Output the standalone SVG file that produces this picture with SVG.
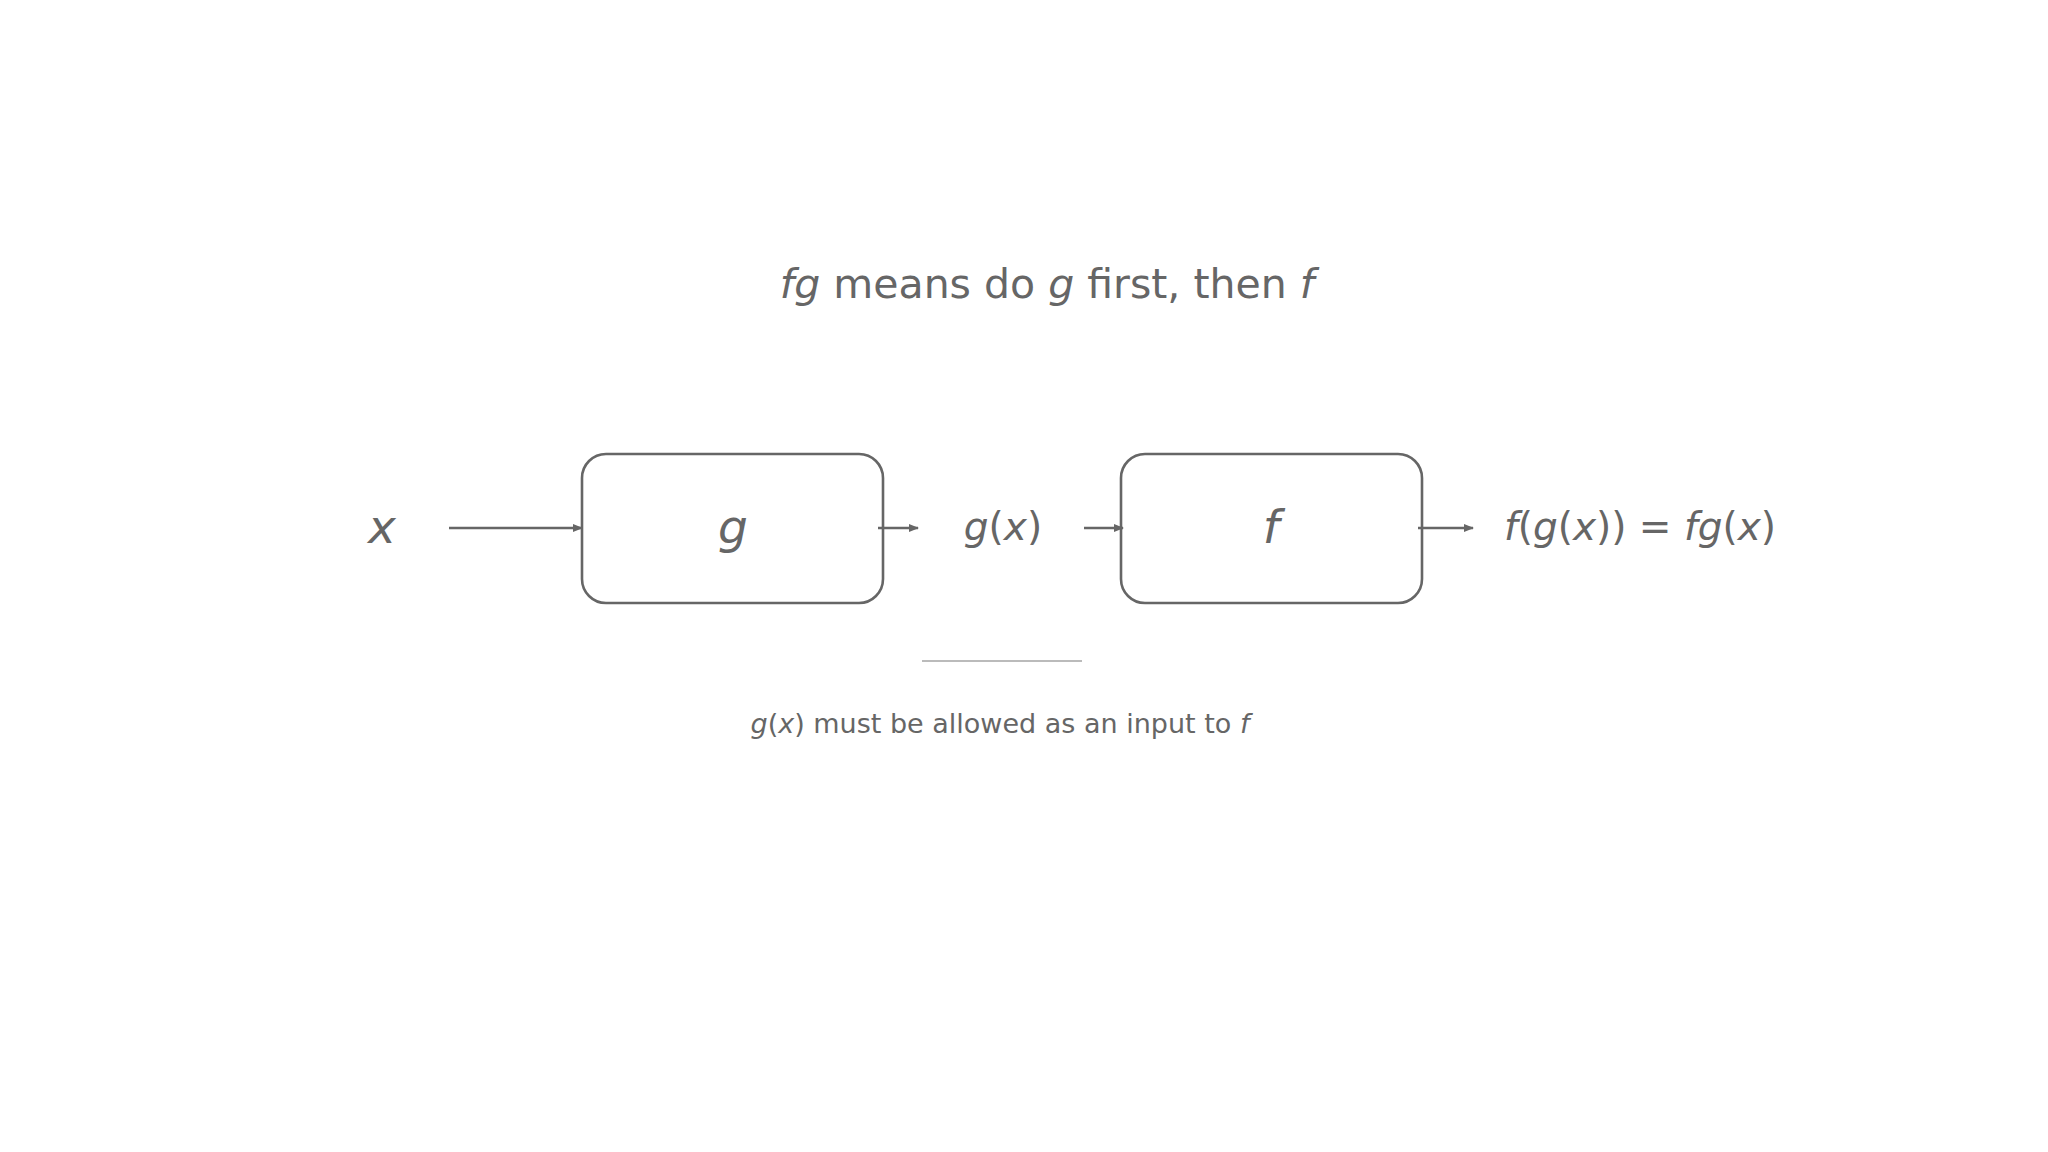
<svg xmlns="http://www.w3.org/2000/svg" width="2048" height="1152" viewBox="0 0 2048 1152">
<style>
text{font-family:"DejaVu Sans",sans-serif;fill:#666}
.i{font-style:italic}
.box{fill:#fff;stroke:#666;stroke-width:2.6}
.c{stroke:#666;stroke-width:2.6;fill:none;marker-end:url(#a)}
</style>
<defs><marker id="a" markerWidth="10" markerHeight="8" refX="9" refY="4" orient="auto" markerUnits="userSpaceOnUse"><path d="M0,0L10,4L0,8z" fill="#666"/></marker></defs>
<rect width="2048" height="1152" fill="#fff"/>
<text x="1047" y="298" font-size="41" text-anchor="middle"><tspan class="i">fg</tspan> means do <tspan class="i">g</tspan> first, then <tspan class="i">f</tspan></text>
<g id="x"><text x="382" y="543" font-size="47" class="i" text-anchor="middle">x</text></g>
<g id="g"><rect class="box" x="582" y="454" width="301" height="149" rx="24"/><text x="733" y="543" font-size="47" class="i" text-anchor="middle">g</text></g>
<g id="gx"><text x="1003" y="540" font-size="39" text-anchor="middle"><tspan class="i">g</tspan>(<tspan class="i">x</tspan>)</text></g>
<g id="f"><rect class="box" x="1121" y="454" width="301" height="149" rx="24"/><text x="1271" y="543" font-size="47" class="i" text-anchor="middle">f</text></g>
<g id="out"><text x="1504" y="540" font-size="39"><tspan class="i">f</tspan>(<tspan class="i">g</tspan>(<tspan class="i">x</tspan>)) = <tspan class="i">fg</tspan>(<tspan class="i">x</tspan>)</text></g>
<g id="connectors">
<line class="c" x1="449" y1="528" x2="582" y2="528"/>
<line class="c" x1="878" y1="528" x2="918" y2="528"/>
<line class="c" x1="1084" y1="528" x2="1123" y2="528"/>
<line class="c" x1="1418" y1="528" x2="1473" y2="528"/>
</g>
<line x1="922" y1="661" x2="1082" y2="661" stroke="#bbb" stroke-width="2"/>
<text x="1000" y="733" font-size="27" text-anchor="middle"><tspan class="i">g</tspan>(<tspan class="i">x</tspan>) must be allowed as an input to <tspan class="i">f</tspan></text>
</svg>
